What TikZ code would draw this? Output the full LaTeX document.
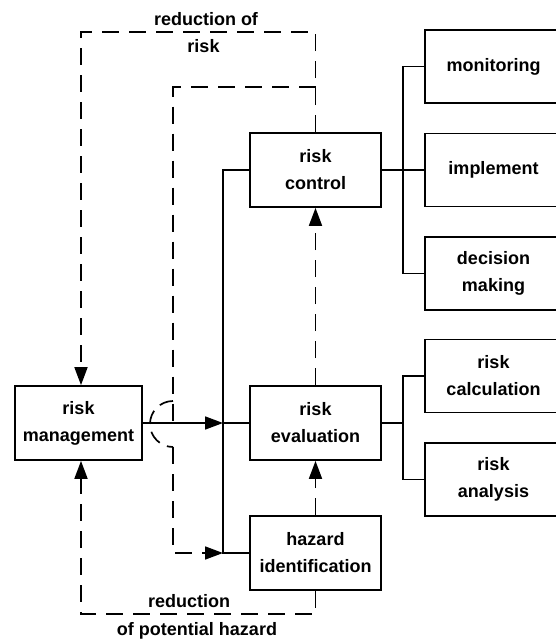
\documentclass[tikz,border=0pt]{standalone}
\usepackage{fontspec}
\setmainfont{Liberation Sans}
\usetikzlibrary{arrows.meta}
\begin{document}
\begin{tikzpicture}[x=1pt,y=-1pt,
  box/.style={draw,line width=1.7pt,minimum width=131pt,minimum height=74pt,align=center,inner sep=0pt,
    font=\bfseries\fontsize{18}{27}\selectfont},
  rbox/.style={box,minimum width=137pt,minimum height=73pt},
  lbl/.style={font=\bfseries\fontsize{18}{27}\selectfont,inner sep=0pt},
  ln/.style={line width=1.7pt},
  dsh/.style={line width=1.7pt,dash pattern=on 17pt off 10pt},
  arr/.style={-{Triangle[length=18pt,width=13pt]}}]
\useasboundingbox (0,0) rectangle (556,640);
\clip (0,0) rectangle (556,640);
% main boxes
\node[box,minimum width=127pt] (man) at (78.5,423) {risk\\management};
\node[box] (ctrl) at (315.5,170) {risk\\control};
\node[box] (eval) at (315.5,423) {risk\\evaluation};
\node[box] (haz) at (315.5,553) {hazard\\identification};
% right boxes
\node[rbox] (mon) at (493.5,66.5) {monitoring};
\node[rbox] (imp) at (493.5,170) {implement};
\node[rbox] (dec) at (493.5,273.5) {decision\\making};
\node[rbox] (calc) at (493.5,376) {risk\\calculation};
\node[rbox] (ana) at (493.5,479.5) {risk\\analysis};
% branch coordinates
\coordinate (b1) at (403,170);
\coordinate (b2) at (403,423);
\coordinate (busT) at (223,170);
\coordinate (busM) at (223,423);
\coordinate (busB) at (223,553);
\coordinate (o1) at (81,32);
\coordinate (o2) at (81,614);
\coordinate (i1) at (173,87);
\coordinate (jT) at (173,401);
\coordinate (jM) at (173,423);
\coordinate (jB) at (173,447);
\coordinate (iB) at (173,553);
% right branches
\draw[ln] (mon.west) -| (b1) |- (dec.west);
\draw[ln] (ctrl.east) -- (imp.west);
\draw[ln] (calc.west) -| (b2) |- (ana.west);
\draw[ln] (eval.east) -- (b2);
% left bus
\draw[ln] (ctrl.west) -| (busB) -- (haz.west);
\draw[ln] (busM) -- (eval.west);
\draw[ln,arr] (man.east) -- (busM);
% dashed feedback loops
\draw[dsh,arr] (ctrl.north) |- (o1) -- (o1 |- man.north);
\draw[dsh,arr] (haz.south) |- (o2) -- (o2 |- man.south);
\draw[dsh] (ctrl.north |- i1) -- (i1) -- (jM);
\draw[dsh,dash pattern=on 14pt off 8pt] (jT) arc[start angle=90,end angle=270,radius=23pt];
\draw[dsh,arr] (jB) -- (iB) -- (busB);
\draw[dsh,arr] (haz.north) -- (eval.south);
\draw[dsh,arr] (eval.north) -- (ctrl.south);
% labels
\node[lbl] (l1) at (206,19) {reduction of};
\node[lbl] (l2) at (203.5,46) {risk};
\node[lbl] (l3) at (189,601) {reduction};
\node[lbl] (l4) at (197,631) {of potential hazard};
\end{tikzpicture}
\end{document}
